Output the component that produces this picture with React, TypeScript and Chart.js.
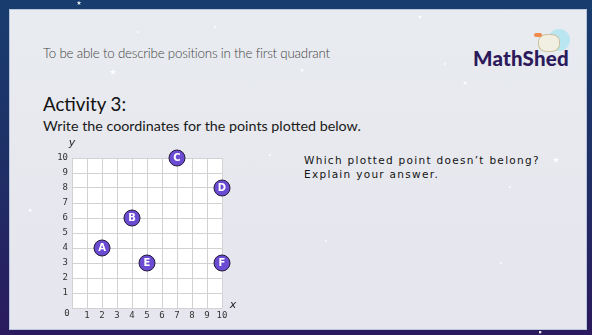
import React, { useEffect, useRef } from "react";
import { Chart, registerables } from "chart.js";

Chart.register(...registerables);

const pointLabels = ["A", "B", "C", "D", "E", "F"];
const xValues = [2, 4, 7, 10, 5, 10];
const yValues = [4, 6, 10, 8, 3, 3];
const axisMin = 0;
const axisMax = 10;

const stars: [number, number, number][] = [
  [79, 3, 5], [113, 72, 7], [302, 70, 3], [420, 17, 5], [465, 83, 5],
  [556, 160, 7], [270, 155, 2], [326, 241, 2], [501, 263, 2], [510, 187, 2],
  [138, 32, 2], [215, 27, 2], [540, 332, 3], [445, 64, 2], [30, 210, 3],
];

const overlay = {
  id: "overlay",
  beforeDraw(chart: any) {
    const { ctx, chartArea } = chart;
    ctx.save();
    ctx.fillStyle = "#ffffff";
    ctx.fillRect(chartArea.left, chartArea.top, chartArea.right - chartArea.left, chartArea.bottom - chartArea.top);
    ctx.restore();
  },
  afterDatasetsDraw(chart: any) {
    const { ctx, chartArea } = chart;
    const meta = chart.getDatasetMeta(0);
    ctx.save();
    ctx.fillStyle = "#ffffff";
    ctx.font = "bold 10px 'DejaVu Sans'";
    ctx.textAlign = "center";
    ctx.textBaseline = "middle";
    meta.data.forEach((el: any, i: number) => {
      ctx.fillText(pointLabels[i], el.x, el.y + 0.5);
    });
    ctx.fillStyle = "#333333";
    ctx.font = "9px 'DejaVu Sans Mono'";
    ctx.fillText("0", chartArea.left - 5, chartArea.bottom + 6);
    ctx.font = "italic 11px 'DejaVu Sans'";
    ctx.fillStyle = "#222222";
    ctx.fillText("y", chartArea.left, chartArea.top - 15);
    ctx.fillText("x", chartArea.right + 11, chartArea.bottom - 3);
    ctx.restore();
  },
};

function Star({ x, y, s }: { x: number; y: number; s: number }) {
  return (
    <div
      style={{
        position: "absolute",
        left: x - s / 2,
        top: y - s / 2,
        width: s,
        height: s,
        background: "rgba(255,255,255,0.9)",
        clipPath:
          s > 3
            ? "polygon(50% 0%, 61% 35%, 98% 35%, 68% 57%, 79% 91%, 50% 70%, 21% 91%, 32% 57%, 2% 35%, 39% 35%)"
            : "circle(50%)",
        filter: "blur(0.3px)",
      }}
    />
  );
}

export default function App() {
  const canvasRef = useRef<HTMLCanvasElement>(null);

  useEffect(() => {
    if (!canvasRef.current) return;
    const chart = new Chart(canvasRef.current, {
      type: "scatter",
      data: {
        datasets: [
          {
            data: xValues.map((x, i) => ({ x, y: yValues[i] })),
            backgroundColor: "#6a4bd1",
            borderColor: "#241a3c",
            borderWidth: 1,
            pointRadius: 8,
            pointHoverRadius: 8,
            clip: false,
          } as any,
        ],
      },
      options: {
        animation: false,
        responsive: false,
        maintainAspectRatio: false,
        events: [],
        layout: { padding: { top: 23, right: 28, left: 0, bottom: 0 } },
        plugins: { legend: { display: false }, tooltip: { enabled: false } },
        scales: {
          x: {
            type: "linear",
            min: axisMin,
            max: axisMax,
            border: { display: false },
            grid: { color: "#d2d2d2", drawTicks: false, lineWidth: 1 },
            ticks: {
              stepSize: 1,
              padding: 2,
              color: "#333333",
              font: { family: "'DejaVu Sans Mono'", size: 9 },
              callback: (v: any) => (v === 0 ? "" : String(v)),
              maxRotation: 0,
            },
            afterFit: (s: any) => {
              s.height = 22;
            },
          },
          y: {
            type: "linear",
            min: axisMin,
            max: axisMax,
            border: { display: false },
            grid: { color: "#d2d2d2", drawTicks: false, lineWidth: 1 },
            ticks: {
              stepSize: 1,
              padding: 4,
              color: "#333333",
              font: { family: "'DejaVu Sans Mono'", size: 9 },
              callback: (v: any) => (v === 0 ? "" : String(v)),
            },
            afterFit: (s: any) => {
              s.width = 32;
            },
          },
        },
      },
      plugins: [overlay],
    });
    return () => chart.destroy();
  }, []);

  return (
    <div
      style={{
        position: "fixed",
        left: 0,
        top: 0,
        width: 592,
        height: 335,
        overflow: "hidden",
        background: "linear-gradient(180deg, #183d6e 0%, #1f2f66 50%, #2b1a5e 100%)",
      }}
    >
      <div
        style={{
          position: "absolute",
          left: 9,
          top: 9,
          width: 576,
          height: 319,
          background: "linear-gradient(180deg, #e8ebef 0%, #e6e6ee 100%)",
          border: "1px solid #b9c6dc",
        }}
      />
      <div
        style={{
          position: "absolute",
          left: 43,
          top: 45,
          fontFamily: "Lato",
          fontWeight: 300,
          fontSize: 13.3,
          letterSpacing: -0.2,
          color: "#454545",
          whiteSpace: "nowrap",
        }}
      >
        To be able to describe positions in the first quadrant
      </div>
      <div
        style={{
          position: "absolute",
          left: 43,
          top: 93,
          fontFamily: "Lato",
          fontSize: 18.7,
          color: "#111111",
          whiteSpace: "nowrap",
        }}
      >
        Activity 3:
      </div>
      <div
        style={{
          position: "absolute",
          left: 43,
          top: 117,
          fontFamily: "Lato",
          fontSize: 14.3,
          color: "#1a1a1a",
          whiteSpace: "nowrap",
        }}
      >
        Write the coordinates for the points plotted below.
      </div>
      <div
        style={{
          position: "absolute",
          left: 304,
          top: 153,
          fontFamily: "'DejaVu Sans'",
          fontSize: 10.5,
          lineHeight: "14px",
          letterSpacing: 1.3,
          color: "#141414",
          whiteSpace: "nowrap",
        }}
      >
        Which plotted point doesn’t belong?
        <br />
        Explain your answer.
      </div>
      {/* logo */}
      <div
        style={{
          position: "absolute",
          left: 548,
          top: 29,
          width: 22,
          height: 22,
          borderRadius: "50%",
          background: "#b9e6f0",
        }}
      />
      <div
        style={{
          position: "absolute",
          left: 538,
          top: 34,
          width: 20,
          height: 16,
          borderRadius: "40%",
          background: "#f1efe2",
          border: "1px solid #c9c2a0",
        }}
      />
      <div
        style={{
          position: "absolute",
          left: 534,
          top: 33,
          width: 8,
          height: 4,
          borderRadius: 2,
          background: "#f08a4a",
        }}
      />
      <div
        style={{
          position: "absolute",
          left: 473,
          top: 46,
          fontFamily: "Lato",
          fontWeight: 900,
          fontSize: 20.5,
          letterSpacing: 0.2,
          color: "#2c1a5c",
          whiteSpace: "nowrap",
        }}
      >
        MathShed
      </div>
      {stars.map(([x, y, s], i) => (
        <Star key={i} x={x} y={y} s={s} />
      ))}
      <canvas
        ref={canvasRef}
        width={210}
        height={195}
        style={{ position: "absolute", left: 40, top: 135, width: 210, height: 195 }}
      />
    </div>
  );
}
